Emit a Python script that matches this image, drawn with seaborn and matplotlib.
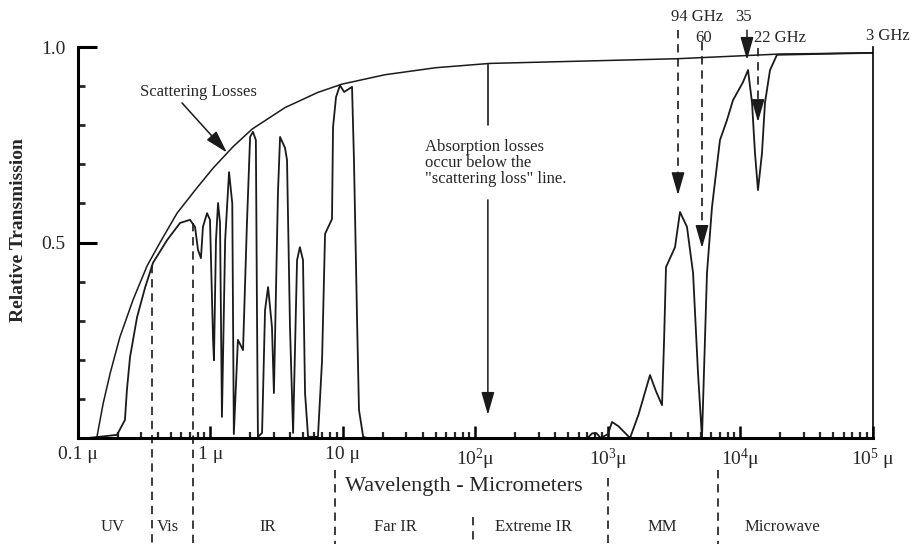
import numpy as np
import pandas as pd
import seaborn as sns
import matplotlib
matplotlib.use("Agg")
import matplotlib.pyplot as plt

# wavelength (micrometers) and relative transmission
trans_wl = [0.119, 0.197, 0.226, 0.234, 0.247, 0.279, 0.321, 0.368, 0.470, 0.589,
            0.700, 0.764, 0.805, 0.847, 0.877, 0.942, 0.991, 1.045, 1.062, 1.10,
            1.14, 1.18, 1.22, 1.29, 1.38, 1.46, 1.50, 1.61, 1.76, 1.88,
            1.99, 2.09, 2.20, 2.24, 2.28, 2.45, 2.58, 2.72, 2.91, 3.01,
            3.23, 3.35, 3.65, 3.78, 3.98, 4.2, 4.5, 4.73, 4.99, 5.17,
            5.45, 6.47, 6.95, 7.32, 8.26, 8.41, 8.86, 9.49, 10.2, 11.7,
            12.1, 12.8, 13.2, 14.2, 15.2, 700, 760, 820, 880, 1000,
            1072, 1200, 1466, 1700, 2075, 2300, 2557, 2650, 2740, 3205,
            3494, 3945, 4385, 4779, 5120, 5585, 6095, 7000, 7906, 8776,
            10440, 11400, 12220, 12860, 13550, 14530, 15300, 16700, 18850, 100000]
trans_val = [0.0, 0.008, 0.046, 0.123, 0.207, 0.309, 0.385, 0.448, 0.506, 0.550,
             0.558, 0.540, 0.481, 0.460, 0.540, 0.575, 0.558, 0.253, 0.199, 0.506,
             0.601, 0.550, 0.054, 0.506, 0.680, 0.600, 0.010, 0.251, 0.225, 0.540,
             0.770, 0.783, 0.762, 0.350, 0.003, 0.013, 0.327, 0.386, 0.284, 0.115,
             0.629, 0.770, 0.742, 0.711, 0.284, 0.013, 0.455, 0.488, 0.455, 0.115,
             0.003, 0.003, 0.199, 0.522, 0.560, 0.795, 0.872, 0.902, 0.885, 0.898,
             0.711, 0.284, 0.072, 0.003, 0.0, 0.0, 0.012, 0.012, 0.0, 0.01,
             0.041, 0.03, 0.0, 0.06, 0.161, 0.12, 0.084, 0.25, 0.437, 0.488,
             0.578, 0.540, 0.422, 0.166, 0.0, 0.422, 0.591, 0.762, 0.813, 0.864,
             0.910, 0.941, 0.857, 0.729, 0.634, 0.729, 0.857, 0.941, 0.980, 0.985]

scat_wl = [0.134, 0.139, 0.155, 0.175, 0.207, 0.260, 0.332, 0.416, 0.559, 0.791,
           1.045, 1.48, 2.06, 3.65, 6.47, 9.82, 20.7, 50, 128, 3319,
           19860, 100000]
scat_val = [0.0, 0.003, 0.089, 0.166, 0.258, 0.353, 0.440, 0.500, 0.575, 0.640,
            0.690, 0.745, 0.790, 0.845, 0.884, 0.905, 0.929, 0.947, 0.958, 0.970,
            0.982, 0.985]

# spectral regions along the bottom
region_names = ["UV", "Vis", "IR", "Far IR", "Extreme IR", "MM", "Microwave"]
region_pos = [0.181, 0.477, 2.72, 24.7, 272, 2557, 20560]
# region boundaries (wavelength, y where the dashed line starts)
bound_wl = [0.362, 0.738, 8.7, 95, 1000, 6760]
bound_top = [0.443, 0.550, -0.082, -0.202, -0.102, -0.082]

xtick_pos = [0.1, 1, 10, 100, 1000, 1e4, 1e5]
xtick_lab = ["0.1 μ", "1 μ", "10 μ", r"$\mathregular{10^{2}}$μ",
             r"$\mathregular{10^{3}}$μ", r"$\mathregular{10^{4}}$μ",
             r"$\mathregular{10^{5}}$ μ"]

df_t = pd.DataFrame({"wl": trans_wl, "t": trans_val})
df_s = pd.DataFrame({"wl": scat_wl, "t": scat_val})

sns.set_theme(style="white")
plt.rcParams["font.family"] = ["Liberation Serif", "DejaVu Serif"]
plt.rcParams["mathtext.fontset"] = "custom"
plt.rcParams["mathtext.rm"] = "Liberation Serif"

fig = plt.figure(figsize=(9.15, 5.44), dpi=100)
ax = fig.add_axes([78 / 915, 1 - 438 / 544, 795 / 915, 391 / 544])

ink = "#1a1a1a"
sns.lineplot(data=df_s, x="wl", y="t", estimator=None, sort=False,
             color=ink, lw=1.1, ax=ax)
sns.lineplot(data=df_t, x="wl", y="t", estimator=None, sort=False,
             color=ink, lw=1.3, ax=ax)

ax.set_xscale("log")
ax.set_xlim(0.1, 1e5)
ax.set_ylim(0, 1.0)
ax.set_xlabel("")
ax.set_ylabel("")

ax.spines["top"].set_visible(False)
ax.spines["left"].set_linewidth(2.2)
ax.spines["bottom"].set_linewidth(2.2)
ax.spines["right"].set_linewidth(1.2)
for s in ["left", "bottom", "right"]:
    ax.spines[s].set_color("black")

ax.set_xticks(xtick_pos, xtick_lab)
ax.xaxis.set_minor_locator(matplotlib.ticker.LogLocator(base=10, subs=np.arange(2, 10)))
ax.xaxis.set_minor_formatter(matplotlib.ticker.NullFormatter())
ax.set_yticks([0.5, 1.0], ["0.5", "1.0"])
ax.set_yticks([0.1, 0.2, 0.3, 0.4, 0.6, 0.7, 0.8, 0.9], minor=True)

ax.tick_params(axis="y", which="major", direction="in", length=14, width=2.2,
               labelsize=14, pad=9, color="black", left=True, right=False)
ax.tick_params(axis="y", which="minor", direction="in", length=5, width=2,
               left=True, right=False)
ax.tick_params(axis="x", which="major", direction="in", length=9, width=1.8,
               labelsize=14, pad=6, color="black", bottom=True)
ax.tick_params(axis="x", which="minor", direction="in", length=4.5, width=1.6,
               bottom=True)

# scattering losses label
arrow = dict(arrowstyle="-|>,head_length=0.7,head_width=0.2", color=ink,
             lw=1.1, mutation_scale=20, shrinkA=0, shrinkB=0)
ax.text(0.805, 0.885, "Scattering Losses", ha="center", va="center", fontsize=12)
ax.annotate("", xy=(1.33, 0.73), xytext=(0.609, 0.857), arrowprops=arrow)

# absorption note
ax.text(41.6, 0.703, 'Absorption losses\noccur below the\n"scattering loss" line.',
        ha="left", va="center", fontsize=12, linespacing=1.0)
ax.plot([124, 124], [0.957, 0.80], color=ink, lw=1.2)
ax.annotate("", xy=(124, 0.059), xytext=(124, 0.609), arrowprops=arrow)

# frequency markers
dash = (0, (5, 3.5))
freq = [(3375, 1.043, 0.621), (5120, 1.013, 0.486), (13550, 0.997, 0.808)]
for x, top, tip in freq:
    ax.plot([x, x], [top, tip + 0.04], color=ink, lw=1.2, ls=dash, clip_on=False)
    ax.annotate("", xy=(x, tip), xytext=(x, tip + 0.05), arrowprops=arrow)
ax.annotate("", xy=(11194, 0.967), xytext=(11194, 1.043), arrowprops=arrow,
            annotation_clip=False)

ax.text(4700, 1.077, "94 GHz", ha="center", va="center", fontsize=12, clip_on=False)
ax.text(10600, 1.077, "35", ha="center", va="center", fontsize=12, clip_on=False)
ax.text(5300, 1.023, "60", ha="center", va="center", fontsize=12, clip_on=False)
ax.text(19860, 1.023, "22 GHz", ha="center", va="center", fontsize=12, clip_on=False)
ax.text(129800, 1.028, "3 GHz", ha="center", va="center", fontsize=12, clip_on=False)

# region boundaries and names
for x, top in zip(bound_wl, bound_top):
    ax.plot([x, x], [top, -0.275], color=ink, lw=1.2, ls=dash, clip_on=False)
for name, x in zip(region_names, region_pos):
    ax.text(x, -0.228, name, ha="center", va="center", fontsize=12)

ax.text(81.8, -0.125, "Wavelength - Micrometers", ha="center", va="center",
        fontsize=16)
fig.text(19 / 915, 1 - 230 / 544, "Relative Transmission", rotation=90,
         ha="center", va="center", fontsize=14, fontweight="bold")

fig.savefig("out.png", dpi=100, facecolor="white")
